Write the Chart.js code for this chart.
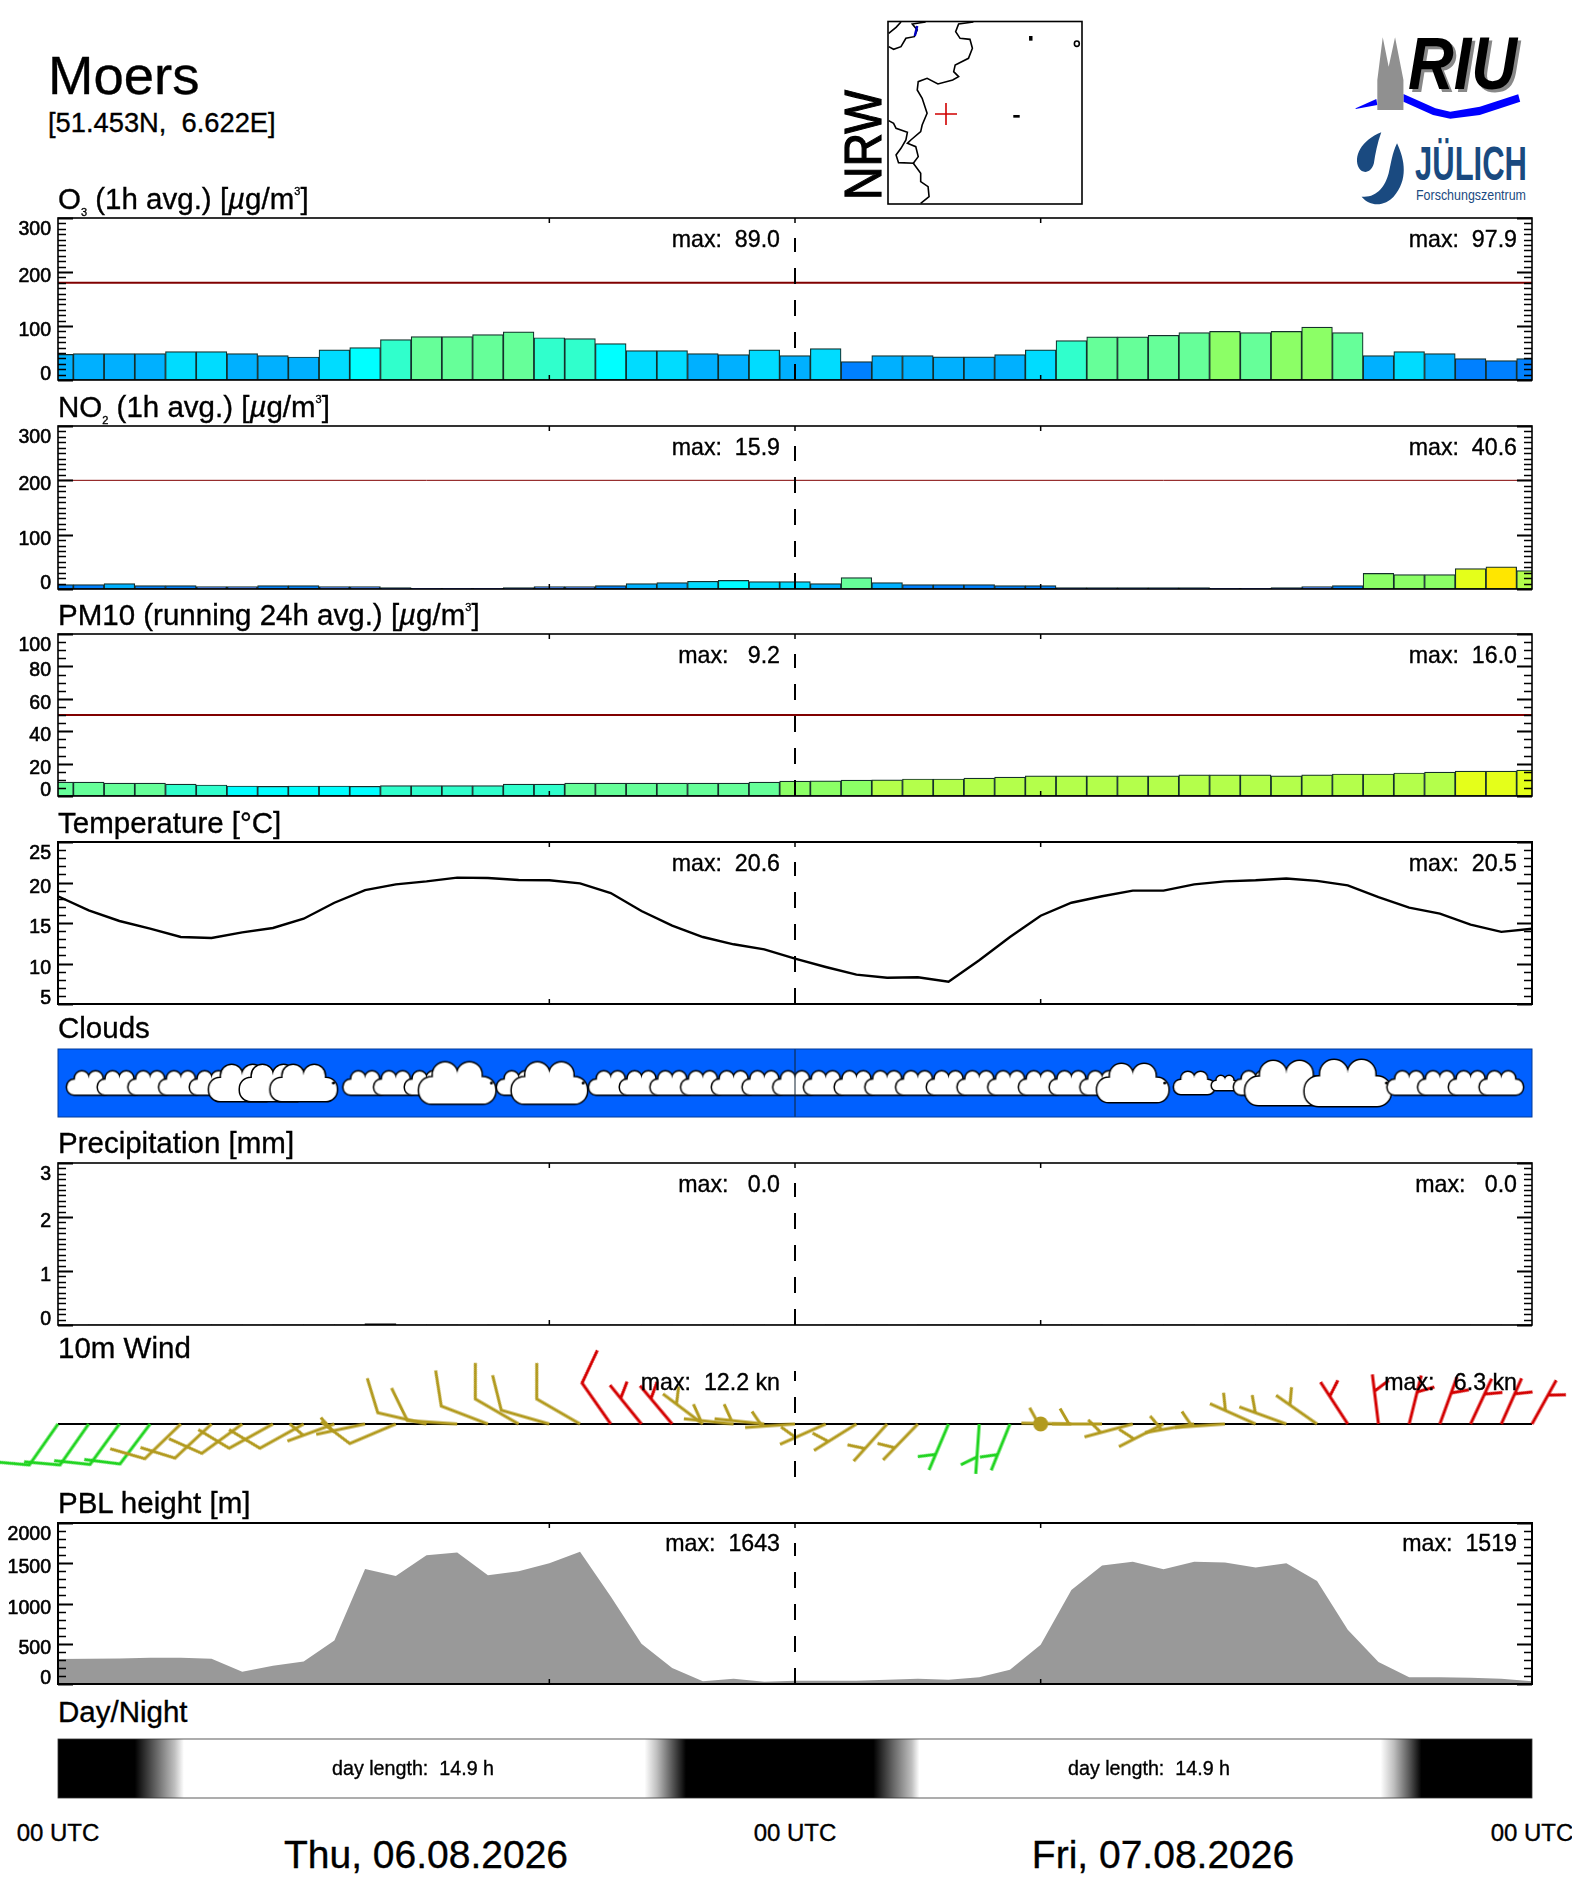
<!DOCTYPE html>
<html>
<head>
<meta charset="utf-8">
<title>Moers</title>
<script src="https://cdn.jsdelivr.net/npm/chart.js@4"></script>
<style>
  html, body { margin: 0; padding: 0; background: #fff; }
  #page { position: relative; width: 1572px; height: 1889px; overflow: hidden; font-family: "Liberation Sans", sans-serif; color: #000; }
  #page canvas { position: absolute; left: 0; }
  .lbl { position: absolute; line-height: 1; white-space: pre; z-index: 5; -webkit-text-stroke: 0.35px #000; }
  .lbl sub, .lbl sup { font-size: 11px; line-height: 0; }
  .lbl sup { vertical-align: 14px; }
  svg { position: absolute; left: 0; top: 0; }
</style>
</head>
<body>
<div id="page">
  <svg width="1572" height="215" viewBox="0 0 1572 215">
    <rect x="888" y="21.5" width="194" height="182.5" fill="#fff" stroke="#000" stroke-width="1.6"/>
    <text transform="translate(881 200) rotate(-90)" font-family="Liberation Sans" font-size="52" stroke="#000" stroke-width="1.2" textLength="110" lengthAdjust="spacingAndGlyphs">NRW</text>
    <!-- map outlines, traced in zoom coordinates -->
    <g transform="translate(800 0) scale(0.4926 0.3333)" fill="none" stroke="#000" stroke-width="1.6">
      <polyline vector-effect="non-scaling-stroke" points="352,66 322,72 316,95 325,115 345,118 350,145 342,175 315,195 312,215 322,230 310,240 280,252 258,235 240,245 238,270 248,295 258,340 248,375 245,395 225,420 218,430 235,440 240,470 230,490 245,520 245,545 260,560 262,590 245,610"/>
      <polyline vector-effect="non-scaling-stroke" points="255,66 228,72 238,90 232,110 215,115 205,140 190,148 180,140"/>
      <polyline vector-effect="non-scaling-stroke" points="205,66 195,82 180,100"/>
      <polyline vector-effect="non-scaling-stroke" points="180,362 190,370 195,385 218,397 215,420 205,445 195,465 200,488 232,490"/>
      <polyline vector-effect="non-scaling-stroke" stroke="#0000c0" stroke-width="2.4" points="238,78 233,108"/>
      <rect x="465" y="108" width="7" height="14" fill="#000" stroke="none"/>
      <ellipse cx="562" cy="131" rx="5" ry="8" vector-effect="non-scaling-stroke"/>
      <rect x="433" y="345" width="13" height="8" fill="#000" stroke="none"/>
    </g>
    <path d="M935 114H957M946 103V125" stroke="#d00000" stroke-width="1.6" fill="none"/>
    <!-- RIU logo -->
    <g transform="translate(800 0) scale(0.4926 0.3333)">
      <path d="M1128 325L1170 297L1172 315L1128 327Z" fill="#0000ff"/>
      <path d="M1225 282L1290 325L1320 335L1380 320L1458 283L1462 305L1380 345L1320 356L1285 345L1225 305Z" fill="#0000ff"/>
      <path d="M1172 330V240L1183 112L1195 200L1208 112L1225 240V330Z" fill="#909090"/>
      <path d="M1180 397C1140 420 1122 470 1135 505C1142 522 1160 520 1165 490C1168 460 1172 430 1180 397Z" fill="#1a4a80"/>
      <path d="M1212 430C1228 480 1235 540 1205 590C1190 615 1160 625 1140 590C1170 595 1188 560 1195 520C1200 490 1202 460 1212 430Z" fill="#1a4a80"/>
    </g>
    <text x="1411" y="92" font-family="Liberation Sans" font-weight="bold" font-style="italic" font-size="74" textLength="109" lengthAdjust="spacingAndGlyphs" fill="#888">RIU</text>
    <text x="1408" y="89" font-family="Liberation Sans" font-weight="bold" font-style="italic" font-size="74" textLength="109" lengthAdjust="spacingAndGlyphs">RIU</text>
    <text x="1415" y="180" font-family="Liberation Sans" font-weight="bold" font-size="49" textLength="112" lengthAdjust="spacingAndGlyphs" fill="#1a4a80">JÜLICH</text>
    <text x="1416" y="200" font-family="Liberation Sans" font-size="15" textLength="110" lengthAdjust="spacingAndGlyphs" fill="#1a4a80">Forschungszentrum</text>
  </svg>
</div>
<script>
// hourly values, 00 UTC Thu .. 00 UTC Sat
const hours = [0,1,2,3,4,5,6,7,8,9,10,11,12,13,14,15,16,17,18,19,20,21,22,23,24,25,26,27,28,29,30,31,32,33,34,35,36,37,38,39,40,41,42,43,44,45,46,47,48];

const o3Values = [47.5,48.7,48.7,48.7,52.4,52.4,48.7,45,42.6,56,60,74.7,80.2,80.2,84,89,78.3,76.5,67.3,54.3,54.3,48.7,47,56,45,58,34,45,45,43,43,47,56,72.8,80,80,82.7,87.6,90,87.6,90,97.9,87.6,45,52.4,48.7,39.5,35.8,39.5];
const no2Values = [8,8,9.8,6.1,6.1,4.3,4.3,6.1,6.1,4.3,4.3,2.5,1.2,1.2,1.2,2.5,4.3,4.3,6.1,9.8,11.7,14.1,15.9,13.5,13.5,9.8,21,11.7,8,8,8,6.1,6.1,2.5,2.5,2.5,2.5,2.5,1.2,1.2,2.5,4.3,6.1,28.8,26.4,26.4,37.4,40.6,33.7];
const pm10Values = [8.6,8.6,8,8,7.4,6.8,6.2,6,6.2,6.2,6,6.4,6.4,6.4,6.4,7.4,7.4,8,8,8,8,8,8,8.6,9.2,9.4,9.8,10,10.5,10.5,11.1,11.7,12.4,12.4,12.4,12.4,12.4,13,13,13,12.4,13,13.6,13.6,14.2,14.8,15.4,15.4,16];
const temperature = [18.3,16.56,15.25,14.3,13.27,13.15,13.85,14.38,15.53,17.5,19.07,19.77,20.14,20.6,20.55,20.3,20.27,19.9,18.7,16.48,14.67,13.27,12.37,11.75,10.6,9.57,8.62,8.25,8.3,7.76,10.4,13.27,15.9,17.5,18.3,19,19,19.77,20.14,20.27,20.5,20.2,19.65,18.2,16.9,16.15,14.8,13.9,14.3];
const cloudCover = [0,.5,.5,.5,.5,.5,.77,.77,.77,0,.5,.5,.5,.88,0,.5,.87,0,.5,.5,.5,.5,.5,.5,.5,.5,.5,.5,.5,.5,.5,.5,.5,.5,.5,.83,0,.47,.3,.5,.95,0,1,0,.5,.5,.5,.5,0];
const precipValues = [0,0,0,0,0,0,0,0,0,0,0.02,0,0,0,0,0,0,0,0,0,0,0,0,0,0,0,0,0,0,0,0,0,0,0,0,0,0,0,0,0,0,0,0,0,0,0,0,0];
const windAngle = [235,235,234,233,224,223,216,209,209,200,192,203,167,176,159,150,164,150,125,129,130,143,174,174,184,204,212,228,226,247,266,248,180,179,180,195,207,190,184,156,160,145,123,97,76,70,65,66,61];
const windSpeed = [9,9,9,9,9,9,9,8.5,8,7,7,8,9,10,11,11,11,11,12.2,7,7,6,6,6,6,5,5,5,5,4,4,4,0,4,4,5,5,5,5,5,5,5,5.5,6,6,6.3,6,6,6];
const pblValues = [310,314,318,326,326,314,153,227,281,541,1430,1343,1599,1632,1351,1400,1500,1643,1087,500,198,33,66,29,41,41,41,54,66,54,83,178,488,1169,1471,1519,1426,1519,1510,1446,1500,1281,673,273,83,83,79,66,33];

// day/night shading: hour and brightness
const dayHours = [0,2.5,3.2,3.8,4.1,19.1,19.5,20,20.45,26.55,27.2,27.8,28.05,43.07,43.5,44,44.4,48];
const dayShade = [0,0,.4,.75,1,1,.75,.35,0,0,.4,.75,1,1,.75,.35,0,0];

// limit lines
const o3Limit = 180;
const no2Limit = 200;
const pm10Limit = 50;

// tick labels
const o3Ticks = [0,100,200,300];
const no2Ticks = [0,100,200,300];
const pm10Ticks = [0,20,40,60,80,100];
const tempTicks = [5,10,15,20,25];
const precipTicks = [0,1,2,3];
const pblTicks = [0,500,1000,1500,2000];
const xTickHours = [16,24,32];

// colour levels of the bars, and the value where each next level starts
const levelColors = ['#0020e0','#0050ff','#0080ff','#00b0ff','#00dcff','#00ffff','#30ffcc','#66ff99','#8cff66','#b4ff4b','#e4ff1a','#ffe600'];
const o3Edges = [20,30,40,50,60,70,80,90,100,110,120];
const no2Edges = [2.5,5,8.5,12,15,18,20,26,32,36,40];
const pm10Edges = [1,2,3,4,5,6.35,7.7,9.1,10,15,20];

const plotLeft = 58;
const plotRight = 1532;
const titleSize = 29.5;
const maxSize = 23.2;
const page = document.getElementById('page');
Chart.defaults.animation = false;
Chart.defaults.font.family = '"Liberation Sans", sans-serif';

function addLabel(html, x, baseline, size, align) {
  let d = document.createElement('div');
  d.className = 'lbl';
  d.innerHTML = html;
  d.style.fontSize = size + 'px';
  d.style.top = (baseline - size * 0.8465) + 'px';
  if (align == 'right') d.style.right = (1572 - x) + 'px';
  else if (align == 'center') { d.style.left = x + 'px'; d.style.transform = 'translateX(-50%)'; }
  else d.style.left = x + 'px';
  page.appendChild(d);
}

function levelColor(v, edges) {
  let n = 0;
  for (let i = 0; i < edges.length; i++) if (v >= edges[i]) n++;
  return levelColors[n];
}

function barData(values, shift) {
  return values.map((v, i) => ({ x: i + shift, y: v }));
}

function barSet(values, edges) {
  return {
    type: 'bar', data: barData(values, 0),
    backgroundColor: values.map(v => levelColor(v, edges)),
    borderColor: '#14302c', borderWidth: 1.2, borderSkipped: false,
    barPercentage: 1, categoryPercentage: 1, order: 2
  };
}

function limitSet(y, width) {
  return {
    type: 'line', data: [{ x: 0, y: y }, { x: 48, y: y }],
    borderColor: '#800000', borderWidth: width, pointRadius: 0, order: 1
  };
}

// frame, inward tick marks, tick labels and the midnight line
const panelPlugin = {
  id: 'panel',
  beforeDatasetsDraw(chart, args, opts) {
    if (!opts.bg) return;
    let a = chart.chartArea;
    chart.ctx.fillStyle = opts.bg;
    chart.ctx.fillRect(a.left, a.top, a.width, a.height);
  },
  afterDatasetsDraw(chart, args, opts) {
    let ctx = chart.ctx, a = chart.chartArea, x = chart.scales.x, y = chart.scales.y;
    ctx.save();
    if (opts.midnight) {
      let xm = x.getPixelForValue(24);
      ctx.beginPath();
      ctx.strokeStyle = opts.midnight == 'solid' ? '#123' : '#000';
      ctx.lineWidth = opts.midnight == 'solid' ? 1 : 2;
      if (opts.midnight == 'dash') ctx.setLineDash([16, 16]);
      ctx.moveTo(xm, a.bottom);
      ctx.lineTo(xm, a.top + (opts.dashGap || 0));
      ctx.stroke();
      ctx.setLineDash([]);
    }
    if (opts.frame) {
      ctx.strokeStyle = opts.frame;
      ctx.lineWidth = opts.frameWidth || 1.6;
      ctx.strokeRect(a.left, a.top, a.width, a.height);
    }
    if (opts.major) {
      ctx.strokeStyle = '#000';
      ctx.fillStyle = '#000';
      ctx.font = '19.5px "Liberation Sans"';
      ctx.textAlign = 'right';
      ctx.textBaseline = 'middle';
      y.ticks.forEach((t, i) => {
        let py = Math.round(y.getPixelForValue(t.value)) + 0.5;
        let isMajor = i % opts.major == 0;
        let len = isMajor ? 15 : 8;
        ctx.lineWidth = isMajor ? 1.8 : 1.4;
        ctx.beginPath();
        ctx.moveTo(a.left, py); ctx.lineTo(a.left + len, py);
        ctx.moveTo(a.right, py); ctx.lineTo(a.right - len, py);
        ctx.stroke();
        if (isMajor) {
          // labels sit a little inside the axis ends
          let nudge = i == 0 ? -6 : (i == y.ticks.length - 1 ? 11 : 4);
          ctx.fillText(String(opts.labels[i / opts.major]), 51, py + nudge);
          ctx.strokeStyle = '#000';
          ctx.lineWidth = 0.6;
          ctx.strokeText(String(opts.labels[i / opts.major]), 51, py + nudge);
        }
      });
      ctx.lineWidth = 1.5;
      xTickHours.forEach(h => {
        let px = x.getPixelForValue(h);
        ctx.beginPath();
        ctx.moveTo(px, a.top); ctx.lineTo(px, a.top + 5);
        ctx.moveTo(px, a.bottom); ctx.lineTo(px, a.bottom - 5);
        ctx.stroke();
      });
    }
    ctx.restore();
  }
};

function addPanel(top, bottom, pad, yMin, yMax, step, datasets, panelOpts) {
  let c = document.createElement('canvas');
  c.width = 1572;
  c.height = bottom - top + pad * 2;
  c.style.top = (top - pad) + 'px';
  page.appendChild(c);
  return new Chart(c, {
    type: 'line',
    data: { datasets: datasets },
    plugins: [panelPlugin],
    options: {
      responsive: false,
      events: [],
      layout: { padding: { left: plotLeft, right: 1572 - plotRight, top: pad, bottom: pad } },
      plugins: { legend: { display: false }, tooltip: { enabled: false }, panel: panelOpts },
      scales: {
        x: { type: 'linear', min: 0, max: 48, offset: false, grid: { display: false, drawTicks: false }, border: { display: false }, ticks: { display: false } },
        y: { type: 'linear', min: yMin, max: yMax, grid: { display: false, drawTicks: false }, border: { display: false }, ticks: { display: false, stepSize: step } }
      }
    }
  });
}

// O3
addLabel('O<sub>3</sub> (1h avg.) [<i>µ</i>g/m<sup>3</sup>]', 58, 209, titleSize);
addPanel(218, 380, 6, 0, 300, 10, [barSet(o3Values, o3Edges), limitSet(o3Limit, 2)],
  { frame: '#000', major: 10, labels: o3Ticks, midnight: 'dash', dashGap: 20 });
addLabel('max:  89.0', 780, 248, maxSize, 'right');
addLabel('max:  97.9', 1517, 248, maxSize, 'right');

// NO2
addLabel('NO<sub>2</sub> (1h avg.) [<i>µ</i>g/m<sup>3</sup>]', 58, 417, titleSize);
addPanel(426, 589, 6, 0, 300, 10, [barSet(no2Values, no2Edges), limitSet(no2Limit, 1)],
  { frame: '#000', major: 10, labels: no2Ticks, midnight: 'dash', dashGap: 20 });
addLabel('max:  15.9', 780, 456, maxSize, 'right');
addLabel('max:  40.6', 1517, 456, maxSize, 'right');

// PM10
addLabel('PM10 (running 24h avg.) [<i>µ</i>g/m<sup>3</sup>]', 58, 625, titleSize);
addPanel(634, 796, 6, 0, 100, 5, [barSet(pm10Values, pm10Edges), limitSet(pm10Limit, 2)],
  { frame: '#000', major: 4, labels: pm10Ticks, midnight: 'dash', dashGap: 20 });
addLabel('max:   9.2', 780, 664, maxSize, 'right');
addLabel('max:  16.0', 1517, 664, maxSize, 'right');

// temperature
addLabel('Temperature [°C]', 58, 833, titleSize);
addPanel(842, 1004, 6, 5, 25, 1, [{
  data: temperature.map((v, i) => ({ x: hours[i], y: v })),
  borderColor: '#000', borderWidth: 2.4, pointRadius: 0, tension: 0
}], { frame: '#000', frameWidth: 2, major: 5, labels: tempTicks, midnight: 'dash', dashGap: 20 });
addLabel('max:  20.6', 780, 872, maxSize, 'right');
addLabel('max:  20.5', 1517, 872, maxSize, 'right');

// clouds: one icon per hour, size from the cover value
function cloudIcon(amount) {
  let w = Math.round(amount * 86), h = Math.round(w * 0.54);
  let c = document.createElement('canvas');
  c.width = w + 6; c.height = h + 6;
  let g = c.getContext('2d');
  g.translate(3, 3);
  let r = 0.16 * w, low = 0.36 * h;
  function shape() {
    g.beginPath();
    g.arc(0.34 * w, r, r, 0, Math.PI * 2);
    g.closePath();
    g.moveTo(0.66 * w + r, r);
    g.arc(0.66 * w, r, r, 0, Math.PI * 2);
    g.closePath();
    g.roundRect(0, low, w, h - low, Math.min(0.3 * h, 14));
    g.rect(0.18 * w, r, 0.64 * w, h * 0.4);
  }
  g.lineJoin = 'round';
  g.strokeStyle = '#000';
  g.lineWidth = 3;
  shape(); g.stroke();
  g.fillStyle = '#fff';
  shape(); g.fill();
  if (amount > 0.7) {
    g.fillStyle = '#000';
    g.beginPath();
    g.arc(0.95 * w, 0.5 * h, 1.5, 0, Math.PI * 2);
    g.fill();
  }
  return c;
}

addLabel('Clouds', 58, 1038, titleSize);
addPanel(1049, 1117, 6, -1, 1, 1, [{
  type: 'scatter',
  data: cloudCover.map((v, i) => ({ x: hours[i], y: 0 })),
  pointStyle: cloudCover.map(v => v > 0 ? cloudIcon(v) : 'circle'),
  pointRadius: cloudCover.map(v => v > 0 ? 5 : 0)
}], { bg: '#0060ff', frame: '#003a9a', frameWidth: 1, midnight: 'solid' });

// precipitation, bars sit between the hours
addLabel('Precipitation [mm]', 58, 1153, titleSize);
addPanel(1163, 1325, 6, 0, 3, 0.1, [{
  type: 'bar', data: barData(precipValues, 0.5),
  backgroundColor: '#000', borderWidth: 0, barPercentage: 1, categoryPercentage: 1
}], { frame: '#000', major: 10, labels: precipTicks, midnight: 'dash', dashGap: 20 });
addLabel('max:   0.0', 780, 1193, maxSize, 'right');
addLabel('max:   0.0', 1517, 1193, maxSize, 'right');

// wind barbs: shaft from the hour point, feather by speed, colour by direction sector
function barbColor(angle) {
  if (angle >= 230) return '#1fd41f';
  if (angle <= 132) return '#d40000';
  return '#b29a1e';
}

function barbIcon(angle, speed) {
  let R = 95, shaft = 50, sin60 = 0.866;
  let c = document.createElement('canvas');
  c.width = R * 2; c.height = R * 2;
  let g = c.getContext('2d');
  g.translate(R, R);
  g.strokeStyle = barbColor(angle);
  g.fillStyle = g.strokeStyle;
  g.lineWidth = 3;
  if (speed < 1) {
    g.beginPath();
    g.arc(0, 0, 7.5, 0, Math.PI * 2);
    g.fill();
    return c;
  }
  g.beginPath();
  g.moveTo(0, 0);
  g.lineTo(shaft, 0);
  if (speed >= 7.5) {
    g.lineTo(shaft + 36 * 0.5, 36 * sin60);
  } else {
    g.moveTo(shaft * 0.66, 0);
    g.lineTo(shaft * 0.66 + 18 * 0.5, 18 * sin60);
  }
  g.stroke();
  return c;
}

addLabel('10m Wind', 58, 1358, titleSize);
addPanel(1371, 1477, 80, -1, 1, 1, [
  {
    type: 'scatter',
    data: windAngle.map((v, i) => ({ x: hours[i], y: 0 })),
    pointStyle: windAngle.map((v, i) => barbIcon(v, windSpeed[i])),
    rotation: windAngle.map(v => -v),
    pointRadius: 5,
    clip: false,
    order: 1
  },
  {
    type: 'line',
    data: [{ x: 0, y: 0 }, { x: 48, y: 0 }],
    borderColor: '#000', borderWidth: 2, pointRadius: 0, order: 2
  }
], { midnight: 'dash', dashGap: 0 });
addLabel('max:  12.2 kn', 780, 1391, maxSize, 'right');
addLabel('max:   6.3 kn', 1517, 1391, maxSize, 'right');

// PBL height
addLabel('PBL height [m]', 58, 1513, titleSize);
addPanel(1523, 1684, 6, 0, 2000, 100, [{
  data: pblValues.map((v, i) => ({ x: hours[i], y: v })),
  borderColor: '#999', borderWidth: 0, backgroundColor: '#999', fill: 'origin', pointRadius: 0, tension: 0
}], { frame: '#000', frameWidth: 2, major: 5, labels: pblTicks, midnight: 'dash', dashGap: 20 });
addLabel('max:  1643', 780, 1552, maxSize, 'right');
addLabel('max:  1519', 1517, 1552, maxSize, 'right');

// day / night
addLabel('Day/Night', 58, 1722, titleSize);
addPanel(1739, 1798, 6, 0, 1, 1, [{
  data: [{ x: 0, y: 1 }, { x: 48, y: 1 }],
  borderWidth: 0, pointRadius: 0, fill: 'origin',
  backgroundColor: function (context) {
    let chart = context.chart;
    if (!chart.chartArea) return '#000';
    let x = chart.scales.x;
    let grad = chart.ctx.createLinearGradient(x.getPixelForValue(0), 0, x.getPixelForValue(48), 0);
    dayHours.forEach((h, i) => {
      let s = Math.round(dayShade[i] * 255);
      grad.addColorStop(h / 48, 'rgb(' + s + ',' + s + ',' + s + ')');
    });
    return grad;
  }
}], { frame: '#333', frameWidth: 0.8 });
addLabel('day length:  14.9 h', 413, 1776, 19.7, 'center');
addLabel('day length:  14.9 h', 1149, 1776, 19.7, 'center');

// header and footer text
addLabel('Moers', 48, 95, 54.5);
addLabel('[51.453N,  6.622E]', 48, 132, 27.3);
addLabel('00 UTC', 58, 1841, 24, 'center');
addLabel('00 UTC', 795, 1841, 24, 'center');
addLabel('00 UTC', 1532, 1841, 24, 'center');
addLabel('Thu, 06.08.2026', 426, 1868, 39, 'center');
addLabel('Fri, 07.08.2026', 1163, 1868, 39, 'center');
</script>
</body>
</html>
